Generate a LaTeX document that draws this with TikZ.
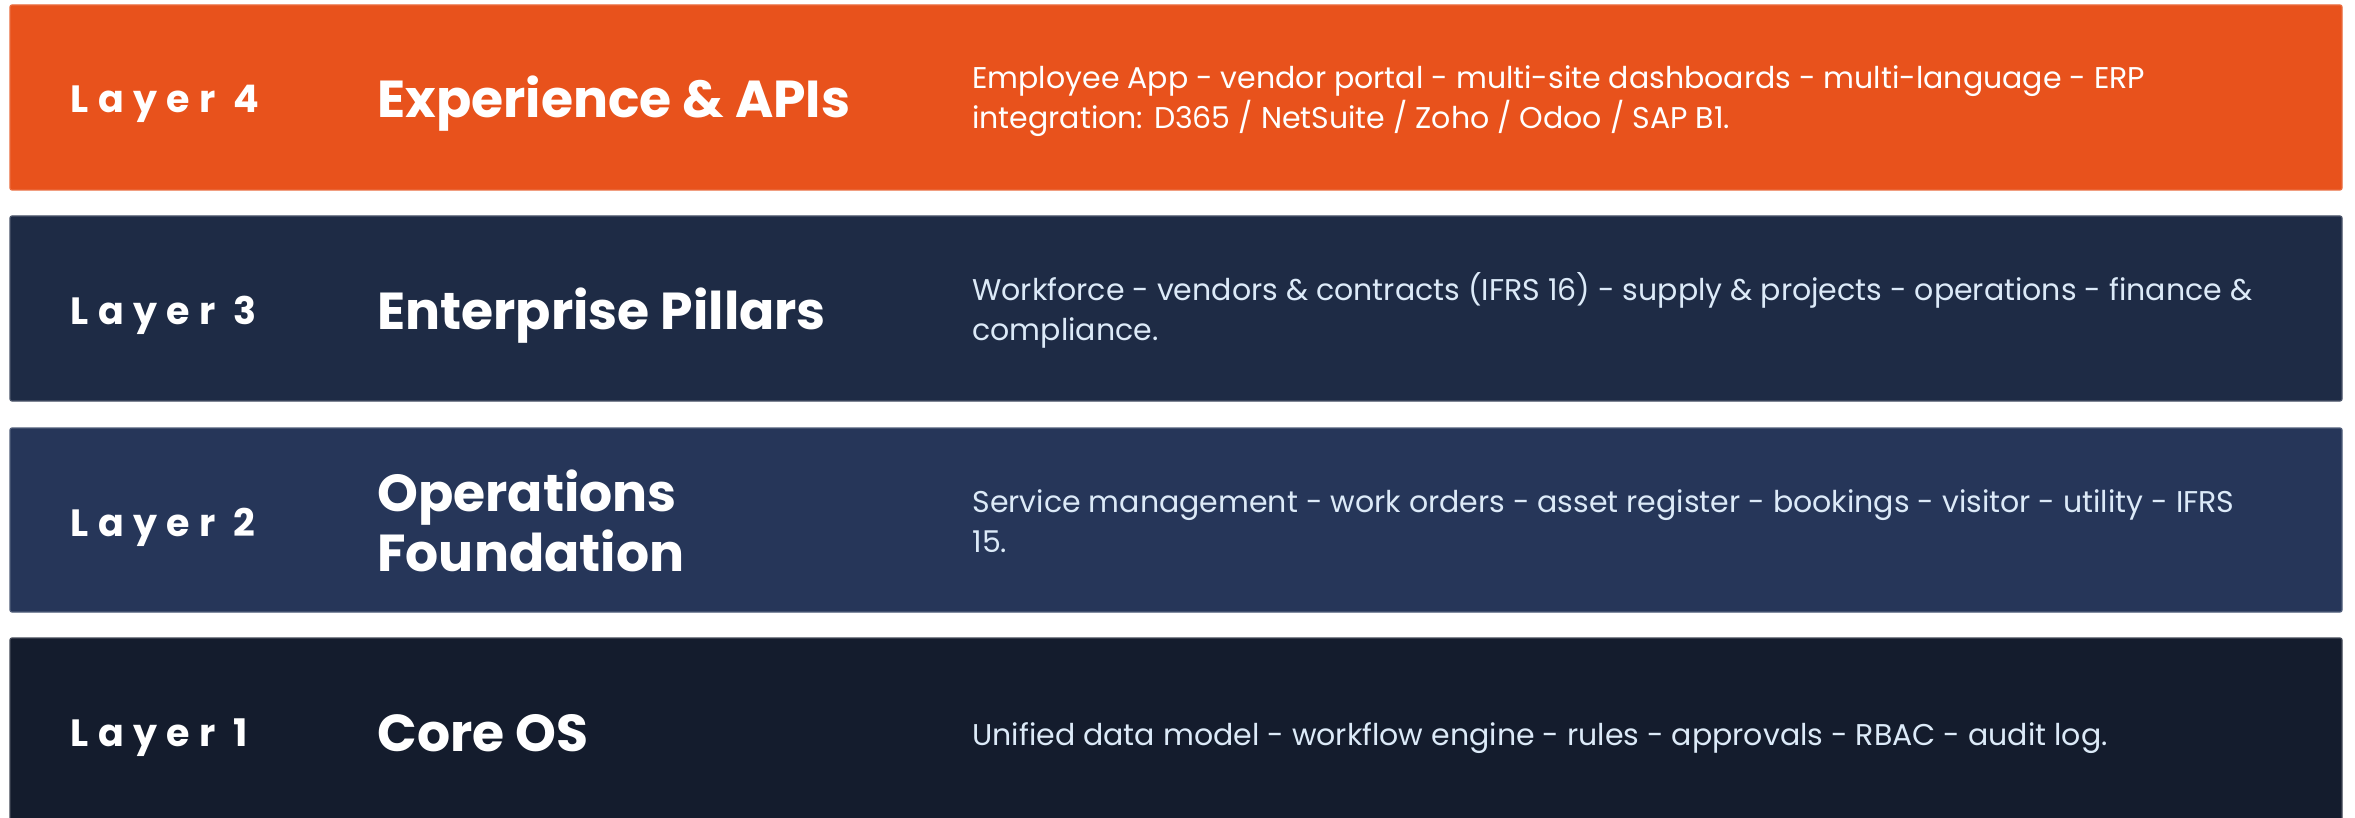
\documentclass[tikz,border=0pt]{standalone}
\usepackage{fontspec}
\setmainfont{Poppins}
\definecolor{orangeL}{HTML}{E8521C}
\definecolor{navyA}{HTML}{1E2B45}
\definecolor{navyB}{HTML}{263659}
\definecolor{navyC}{HTML}{141C2D}
\definecolor{descL}{HTML}{DCEAF8}
\tikzset{
  band/.style={rounded corners=1pt, line width=0.6pt},
  lab/.style={anchor=base west, inner sep=0pt, text=white, font=\fontsize{19}{22}\selectfont\bfseries\addfontfeatures{LetterSpace=25}},
  ttl/.style={anchor=base west, inner sep=0pt, text=white, align=left, font=\fontsize{26}{30}\selectfont\bfseries},
  dsc/.style={anchor=base west, inner sep=0pt, align=left, font=\fontsize{15}{20}\selectfont}
}
\begin{document}
\begin{tikzpicture}[x=0.5pt,y=-0.5pt]
\useasboundingbox (0,0) rectangle (2355,818);
\fill[white] (0,0) rectangle (2355,818);
\filldraw[band, fill=orangeL, draw=orangeL!85!white] (10,5) rectangle (2342,190);
\filldraw[band, fill=navyA, draw=navyA!80!white] (10,216) rectangle (2342,401);
\filldraw[band, fill=navyB, draw=navyB!80!white] (10,428) rectangle (2342,612);
\filldraw[band, fill=navyC, draw=navyC!80!white] (10,638) rectangle (2342,830);
% Layer 4 (base anchor = baseline of the last line)
\node[lab] (l4) at (70,113) {Layer 4};
\node[ttl] (t4) at (377,118) {Experience \& APIs};
\node[dsc, text=white] (d4) at (972,129) {Employee App - vendor portal - multi-site dashboards - multi-language - ERP\\integration: D365 / NetSuite / Zoho / Odoo / SAP B1.};
% Layer 3
\node[lab] (l3) at (70,324) {Layer 3};
\node[ttl] (t3) at (377,329) {Enterprise Pillars};
\node[dsc, text=descL] (d3) at (972,340) {Workforce - vendors \& contracts (IFRS 16) - supply \& projects - operations - finance \&\\compliance.};
% Layer 2
\node[lab] (l2) at (70,536) {Layer 2};
\node[ttl] (t2) at (377,571) {Operations\\Foundation};
\node[dsc, text=descL] (d2) at (972,552) {Service management - work orders - asset register - bookings - visitor - utility - IFRS\\15.};
% Layer 1
\node[lab] (l1) at (70,746) {Layer 1};
\node[ttl] (t1) at (377,751) {Core OS};
\node[dsc, text=descL] (d1) at (972,745) {Unified data model - workflow engine - rules - approvals - RBAC - audit log.};
\end{tikzpicture}
\end{document}
